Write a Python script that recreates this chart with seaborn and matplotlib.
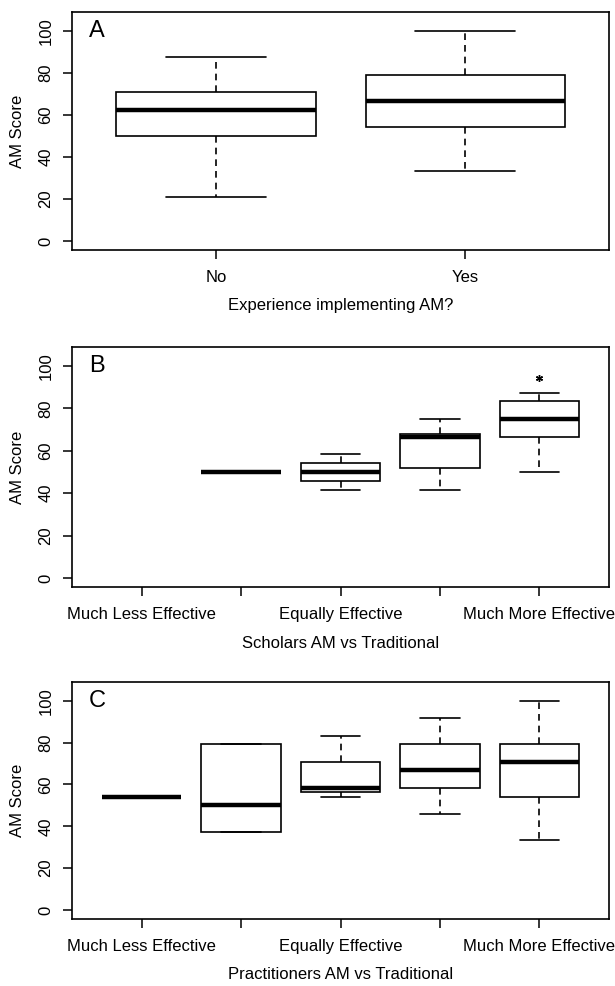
import numpy as np
import pandas as pd
import matplotlib
matplotlib.use("Agg")
import matplotlib.pyplot as plt
import seaborn as sns

# ---------------- data (five-number summaries) ----------------
# Panel A
exp_cats = ["No", "Yes"]
exp_no = [20.8, 50.0, 62.5, 70.8, 87.5]
exp_yes = [33.3, 54.2, 66.7, 79.2, 100.0]

# Panels B and C share the categories
eff_cats = ["Much Less Effective", "Less Effective", "Equally Effective",
            "More Effective", "Much More Effective"]
eff_ticklabels = ["Much Less Effective", "", "Equally Effective", "", "Much More Effective"]

# Panel B: scholars (no answers for "Much Less Effective")
sch_less = [50.0, 50.0, 50.0, 50.0, 50.0]
sch_equal = [41.7, 45.8, 50.0, 54.2, 58.3]
sch_more = [41.7, 52.1, 66.7, 67.7, 75.0]
sch_much_more = [50.0, 66.7, 75.0, 83.3, 87.5]
sch_star_value = 94.5   # asterisk above "Much More Effective"

# Panel C: practitioners
pra_much_less = [54.2, 54.2, 54.2, 54.2, 54.2]
pra_less = [37.5, 37.5, 50.0, 79.2, 79.2]
pra_equal = [54.2, 56.2, 58.3, 70.8, 83.3]
pra_more = [45.8, 58.3, 66.7, 79.2, 91.7]
pra_much_more = [33.3, 54.2, 70.8, 79.2, 100.0]

panel_letters = ["A", "B", "C"]
xlabels = ["Experience implementing AM?", "Scholars AM vs Traditional",
           "Practitioners AM vs Traditional"]
ylabel = "AM Score"
yticks = [0, 20, 40, 60, 80, 100]


def long_df(groups):
    rows = []
    for cat, vals in groups:
        for v in vals:
            rows.append({"cat": cat, "score": v})
    return pd.DataFrame(rows)


df_a = long_df([("No", exp_no), ("Yes", exp_yes)])
df_b = long_df([("Less Effective", sch_less), ("Equally Effective", sch_equal),
                ("More Effective", sch_more), ("Much More Effective", sch_much_more)])
df_c = long_df([("Much Less Effective", pra_much_less), ("Less Effective", pra_less),
                ("Equally Effective", pra_equal), ("More Effective", pra_more),
                ("Much More Effective", pra_much_more)])

# ---------------- style ----------------
sns.set_style("white")
plt.rcParams["font.family"] = ["Liberation Sans", "DejaVu Sans"]
plt.rcParams["axes.edgecolor"] = "black"
plt.rcParams["axes.linewidth"] = 1.2
plt.rcParams["text.color"] = "black"
plt.rcParams["axes.labelcolor"] = "black"
plt.rcParams["xtick.color"] = "black"
plt.rcParams["ytick.color"] = "black"

fig = plt.figure(figsize=(6.15, 9.86), dpi=100)
W, H = 615.0, 986.0
left, right = 72, 609
frames = [(12, 250), (347, 587), (682, 919)]
axes = []
for top, bottom in frames:
    axes.append(fig.add_axes([left / W, (H - bottom) / H, (right - left) / W, (bottom - top) / H]))

specs = [
    (df_a, exp_cats, exp_cats, (-0.577, 1.576)),
    (df_b, eff_cats, eff_ticklabels, (-0.70, 4.70)),
    (df_c, eff_cats, eff_ticklabels, (-0.70, 4.70)),
]

for i, (ax, (df, order, ticklabels, xlim)) in enumerate(zip(axes, specs)):
    sns.boxplot(data=df, x="cat", y="score", order=order, ax=ax,
                color="white", linecolor="black", linewidth=1.2, width=0.8,
                whis=(0, 100), fliersize=0, saturation=1,
                medianprops=dict(linewidth=3.2, solid_capstyle="butt"),
                whiskerprops=dict(linestyle=(0, (4, 3))))
    ax.set_xlim(*xlim)
    ax.set_ylim(-4.3, 109)
    ax.set_yticks(yticks)
    ax.set_yticklabels([str(t) for t in yticks], rotation=90, va="center", fontsize=12)
    ax.set_xticks(range(len(order)))
    ax.set_xticklabels(ticklabels, fontsize=12)
    ax.tick_params(axis="both", direction="out", length=6.5, width=1.1, color="black",
                   labelcolor="black", left=True, bottom=True)
    ax.tick_params(axis="y", pad=7)
    ax.tick_params(axis="x", pad=8)
    for s in ax.spines.values():
        s.set_visible(True)
        s.set_color("black")
        s.set_linewidth(1.2)
    ax.set_xlabel(xlabels[i], fontsize=12, color="black")
    ax.set_ylabel(ylabel, fontsize=12, color="black")
    ax.xaxis.set_label_coords(0.5, -0.235)
    ax.xaxis.label.set_va("center")
    ax.yaxis.set_label_coords(-0.102, 0.5)
    ax.yaxis.label.set_va("center")
    ax.text(0.032, 0.92, panel_letters[i], transform=ax.transAxes,
            ha="left", va="center", fontsize=17, color="black")

# asterisk in panel B
axes[1].plot(eff_cats.index("Much More Effective"), sch_star_value, linestyle="none",
             marker=(6, 2, 0), markersize=5, markeredgewidth=1.0, color="black")

fig.savefig("out.png", dpi=100, facecolor="white")
